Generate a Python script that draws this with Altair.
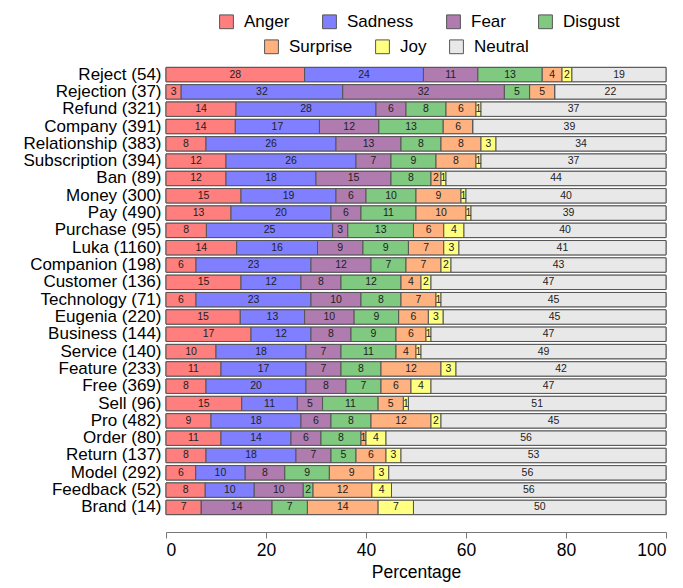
import altair as alt
import pandas as pd

categories = ["Reject (54)", "Rejection (37)", "Refund (321)", "Company (391)",
              "Relationship (383)", "Subscription (394)", "Ban (89)", "Money (300)",
              "Pay (490)", "Purchase (95)", "Luka (1160)", "Companion (198)",
              "Customer (136)", "Technology (71)", "Eugenia (220)", "Business (144)",
              "Service (140)", "Feature (233)", "Free (369)", "Sell (96)", "Pro (482)",
              "Order (80)", "Return (137)", "Model (292)", "Feedback (52)", "Brand (14)"]
emotions = ["Anger", "Sadness", "Fear", "Disgust", "Surprise", "Joy", "Neutral"]
colors = ["#FF7F7F", "#7F7FFF", "#B07CB0", "#80C980", "#FFB27F", "#FFFF80", "#E8E8E8"]
legend_row1 = ["Anger", "Sadness", "Fear", "Disgust"]
legend_row2 = ["Surprise", "Joy", "Neutral"]

anger = [28, 3, 14, 14, 8, 12, 12, 15, 13, 8, 14, 6, 15, 6, 15, 17, 10, 11, 8, 15, 9, 11, 8, 6, 8, 7]
sadness = [24, 32, 28, 17, 26, 26, 18, 19, 20, 25, 16, 23, 12, 23, 13, 12, 18, 17, 20, 11, 18, 14, 18, 10, 10, 0]
fear = [11, 32, 6, 12, 13, 7, 15, 6, 6, 3, 9, 12, 8, 10, 10, 8, 7, 7, 8, 5, 6, 6, 7, 8, 10, 14]
disgust = [13, 5, 8, 13, 8, 9, 8, 10, 11, 13, 9, 7, 12, 8, 9, 9, 11, 8, 7, 11, 8, 8, 5, 9, 2, 7]
surprise = [4, 5, 6, 6, 8, 8, 2, 9, 10, 6, 7, 7, 4, 7, 6, 6, 4, 12, 6, 5, 12, 1, 6, 9, 12, 14]
joy = [2, 0, 1, 0, 3, 1, 1, 1, 1, 4, 3, 2, 2, 1, 3, 1, 1, 3, 4, 1, 2, 4, 3, 3, 4, 7]
neutral = [19, 22, 37, 39, 34, 37, 44, 40, 39, 40, 41, 43, 47, 45, 45, 47, 49, 42, 47, 51, 45, 56, 53, 56, 56, 50]

series = [anger, sadness, fear, disgust, surprise, joy, neutral]
rows = []
for ei, (e, vals) in enumerate(zip(emotions, series)):
    for c, v in zip(categories, vals):
        rows.append({"category": c, "emotion": e, "eidx": ei, "value": v})
df = pd.DataFrame(rows)

FONT = "Liberation Sans"

base = (
    alt.Chart(df)
    .transform_joinaggregate(total="sum(value)", groupby=["category"])
    .transform_calculate(pct="datum.value / datum.total * 100")
    .transform_stack(stack="pct", groupby=["category"], as_=["x0", "x1"],
                     sort=[alt.SortField("eidx", order="ascending")])
    .transform_calculate(mid="(datum.x0 + datum.x1) / 2")
)

y = alt.Y("category:N", sort=categories, title=None,
          scale=alt.Scale(paddingInner=0.17, paddingOuter=0.08),
          axis=alt.Axis(domain=False, ticks=False, labelFontSize=17, labelColor="#000",
                        labelPadding=5, labelFont=FONT, minExtent=153))

x = alt.X("x0:Q", scale=alt.Scale(domain=[0, 100], nice=False),
          axis=alt.Axis(values=[0, 20, 40, 60, 80, 100], title="Percentage", grid=False,
                        offset=16, labelFontSize=17.5, titleFontSize=17.5, labelFont=FONT,
                        titleFont=FONT, titleFontWeight="normal", labelColor="#000",
                        titleColor="#000", domainColor="#777", tickColor="#777",
                        tickSize=6, labelPadding=3, titlePadding=5))


def legend(values, lx, ly, pad):
    return alt.Legend(title=None, orient="none", legendX=lx, legendY=ly, values=values,
                      direction="horizontal", symbolType="square", symbolSize=190,
                      symbolStrokeColor="#555", symbolStrokeWidth=1,
                      labelFontSize=17, labelFont=FONT, labelColor="#000",
                      columnPadding=pad, labelOffset=9)


scale = alt.Scale(domain=emotions, range=colors)

bars_a = base.mark_bar(stroke="#555555", strokeWidth=1).encode(
    x=x, x2="x1:Q", y=y,
    color=alt.Color("emotion:N", sort=emotions, scale=scale,
                    legend=legend(legend_row2, 97, -28, 20)),
)
bars_b = base.mark_bar(stroke="#555555", strokeWidth=1).encode(
    x=x, x2="x1:Q", y=y,
    color=alt.Color("emotion:N", sort=emotions, scale=scale,
                    legend=legend(legend_row1, 52, -53, 30)),
)

text = base.transform_filter("datum.value > 0").mark_text(
    fontSize=10.5, color="#222", font=FONT
).encode(x="mid:Q", y=y, text="value:Q")

chart = (
    alt.layer(bars_a, bars_b, text)
    .resolve_scale(color="independent")
    .properties(width=500, height=450)
    .configure_view(stroke=None)
)

chart.save("out.html", embed_options={"renderer": "svg", "actions": False})
